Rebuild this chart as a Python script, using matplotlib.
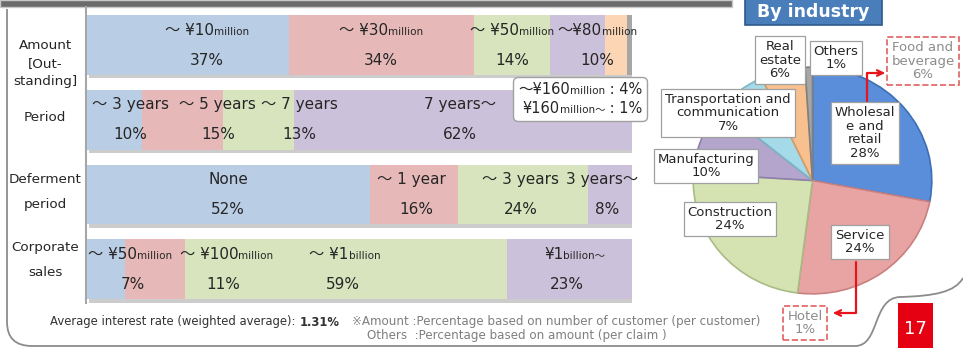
import matplotlib.pyplot as plt
import matplotlib.patheffects as pe
import numpy as np
from matplotlib.offsetbox import AnnotationBbox, HPacker, TextArea, VPacker
from matplotlib.patches import PathPatch, Rectangle
from matplotlib.path import Path

plt.rcParams['font.family'] = ['DejaVu Sans', 'Noto Sans CJK JP']

W, H = 963, 348

# ---- data ----
row_names = ["Amount\n[Out-\nstanding]", "Period", "Deferment\nperiod", "Corporate\nsales"]

amount_pct = [37, 34, 14, 10, 4, 1]
amount_cats = [[("～ ¥10", 0), ("million", 1)],
               [("～ ¥30", 0), ("million", 1)],
               [("～ ¥50", 0), ("million", 1)],
               [("～¥80", 0), ("million", 1)]]
amount_note = [[("～¥160", 0), ("million", 1), (" : 4%", 0)],
               [("¥160", 0), ("million～", 1), (" : 1%", 0)]]

period_pct = [10, 15, 13, 62]
period_cats = ["～ 3 years", "～ 5 years", "～ 7 years", "7 years～"]

deferment_pct = [52, 16, 24, 8]
deferment_cats = ["None", "～ 1 year", "～ 3 years", "3 years～"]

sales_pct = [7, 11, 59, 23]
sales_cats = [[("～ ¥50", 0), ("million", 1)],
              [("～ ¥100", 0), ("million", 1)],
              [("～ ¥1", 0), ("billion", 1)],
              [("¥1", 0), ("billion～", 1)]]

industry = ["Wholesal\ne and\nretail", "Service", "Construction", "Manufacturing",
            "Transportation and\ncommunication", "Real\nestate", "Others"]
industry_pct = [28, 24, 24, 10, 7, 6, 1]
sub_names = ["Food and\nbeverage", "Hotel"]
sub_pct = [6, 1]

# ---- layout / style ----
bar_colors = ['#b9cde5', '#e6b9b8', '#d7e4bd', '#ccc1da', '#fcd5b5', '#a6a6a6']
cat_x = [[22, 54, 78, 93.6], [8, 24, 38.9, 68.4], [25.9, 59.6, 79.6, 94.5], [7.9, 25.6, 47.3, 89.5]]
pct_x = [[22, 54, 78, 93.6], [8, 24, 38.9, 68.4], [25.9, 60.5, 79.6, 95.4], [8.4, 25, 47, 88]]
row_label_dy = [0.25, -0.03, -0.04, -0.12]
row_label_ls = [1.5, 1.0, 2.2, 2.2]
pie_colors = ['#5a8edb', '#e8a3a3', '#d5e3b3', '#b4a5cc', '#a5dbe8', '#f8c08e', '#a6a6a6']
pie_edges = ['#3d6fb5', '#c98080', '#a9bb85', '#8f7fac', '#79b7c6', '#d69b66', '#7f7f7f']
pie_label_xy = [(865, 133), (860, 242), (730, 219), (706, 166), (728, 113), (780, 60), (836, 58)]
sub_label_xy = [(923, 61), (805, 323)]
TXT = '#262626'
RED = '#e8141b'


def mixed(parts, big=11, small=7.5, color=TXT):
    kids = [TextArea(s, textprops=dict(fontsize=small if tiny else big, color=color))
            for s, tiny in parts]
    return HPacker(children=kids, align='baseline', pad=0, sep=0)


fig = plt.figure(figsize=(W / 100, H / 100), dpi=100)

# background / overlay axes in pixel units
bg = fig.add_axes([0, 0, 1, 1], zorder=0)
ov = fig.add_axes([0, 0, 1, 1], zorder=10)
for a in (bg, ov):
    a.set_xlim(0, W)
    a.set_ylim(H, 0)
    a.axis('off')

# title strip, frame, divider
bg.add_patch(Rectangle((0, 0), 732, 7, fc='#6b6b6b', ec='#c8c8c8', lw=1))
frame = Path([(7, 9), (7, 322), (7, 346), (32, 346), (855, 346),
              (880, 346), (872, 298), (900, 297),
              (935, 296), (955, 292), (963, 278)],
             [Path.MOVETO, Path.LINETO, Path.CURVE3, Path.CURVE3, Path.LINETO,
              Path.CURVE4, Path.CURVE4, Path.CURVE4,
              Path.CURVE4, Path.CURVE4, Path.CURVE4])
bg.add_patch(PathPatch(frame, fc='none', ec='#8c8c8c', lw=1.3))
bg.plot([86, 86], [7, 303], color='#a6a6a6', lw=1.5)

# ---- stacked bars ----
ax = fig.add_axes([87 / W, 1 - 306.7 / H, 545 / W, 299 / H], zorder=2)
ax.set_xlim(0, 100)
ax.set_ylim(3.5, -0.5)
ax.axis('off')

shadow = [pe.SimplePatchShadow(offset=(1.5, -2.5), shadow_rgbFace='#9a9a9a', alpha=0.5), pe.Normal()]
all_pct = [amount_pct, period_pct, deferment_pct, sales_pct]
all_cats = [amount_cats,
            [[(s, 0)] for s in period_cats],
            [[(s, 0)] for s in deferment_cats],
            sales_cats]

for r, pcts in enumerate(all_pct):
    left = np.concatenate([[0], np.cumsum(pcts)[:-1]])
    ax.barh(r, pcts, left=left, height=0.8, color=bar_colors[:len(pcts)],
            edgecolor='none', path_effects=shadow)
    for i, cat in enumerate(all_cats[r]):
        ab = AnnotationBbox(mixed(cat), (cat_x[r][i], r - 0.2), frameon=False,
                            box_alignment=(0.5, 0.5), pad=0, zorder=4)
        ax.add_artist(ab)
        ax.text(pct_x[r][i], r + 0.2, f"{pcts[i]}%", ha='center', va='center',
                fontsize=11, color=TXT)
    ax.text(-7.7, r + row_label_dy[r], row_names[r], ha='center', va='center',
            fontsize=9.7, color=TXT, linespacing=row_label_ls[r])

# callout for the two small amount segments
note = VPacker(children=[mixed(p, big=10.5, small=7.5) for p in amount_note],
               align='right', pad=0, sep=3)
tip_x = sum(amount_pct[:4]) + amount_pct[4] / 2
ab = AnnotationBbox(note, (tip_x, 0.42), xybox=(90.5, 0.72), boxcoords='data',
                    box_alignment=(0.5, 0.5), pad=0.3,
                    bboxprops=dict(boxstyle='round,pad=0.35', fc='white', ec='#a0a0a0', lw=1),
                    arrowprops=dict(arrowstyle='wedge,tail_width=0.9', fc='white', ec='#a0a0a0', lw=1),
                    zorder=6)
ax.add_artist(ab)

# ---- pie by industry ----
axp = fig.add_axes([692 / W, 1 - 295 / H, 241 / W, 229 / H], zorder=3)
wedges, _ = axp.pie(industry_pct, colors=pie_colors, startangle=90, counterclock=False,
                    wedgeprops=dict(linewidth=1.2))
for w, ec in zip(wedges, pie_edges):
    w.set_edgecolor(ec)
axp.set_aspect('auto')
axp.set_xlim(-1.01, 1.01)
axp.set_ylim(-1.01, 1.01)

box = dict(boxstyle='square,pad=0.3', fc='white', ec='#a0a0a0', lw=0.9)
dbox = dict(boxstyle='square,pad=0.3', fc='white', ec='#e06060', lw=1.2, ls='--')
for (x, y), name, p in zip(pie_label_xy, industry, industry_pct):
    ov.text(x, y, f"{name}\n{p}%", ha='center', va='center', fontsize=9.5,
            color=TXT, linespacing=1.05, bbox=box)
for (x, y), name, p in zip(sub_label_xy, sub_names, sub_pct):
    ov.text(x, y, f"{name}\n{p}%", ha='center', va='center', fontsize=9.5,
            color='#8c8c8c', linespacing=1.05, bbox=dbox)

ov.annotate('', xy=(885, 73), xytext=(867, 101),
            arrowprops=dict(arrowstyle='->', color=RED, lw=1.6, shrinkA=0, shrinkB=0,
                            connectionstyle='angle,angleA=90,angleB=0,rad=0'))
ov.annotate('', xy=(833, 313), xytext=(856, 262),
            arrowprops=dict(arrowstyle='->', color=RED, lw=1.6, shrinkA=0, shrinkB=0,
                            connectionstyle='angle,angleA=90,angleB=0,rad=0'))

# "By industry" tab and page number
ov.add_patch(Rectangle((745, -4), 137, 29, fc='#4a7ebb', ec='#2f5a8c', lw=1.2))
ov.text(813, 12, "By industry", ha='center', va='center', fontsize=12.5,
        fontweight='bold', color='white')
ov.add_patch(Rectangle((898, 303), 35, 46, fc='#e50012', ec='none'))
ov.text(915.5, 329, "17", ha='center', va='center', fontsize=13, color='white')

# footer notes
avg = HPacker(children=[TextArea("Average interest rate (weighted average): ",
                                 textprops=dict(fontsize=8.4, color='#333333')),
                        TextArea("1.31%", textprops=dict(fontsize=8.4, color='#333333',
                                                         fontweight='bold'))],
              align='baseline', pad=0, sep=0)
ov.add_artist(AnnotationBbox(avg, (50, 322), frameon=False, box_alignment=(0, 0.5), pad=0))
ov.text(352, 322, "※Amount :Percentage based on number of customer (per customer)",
        fontsize=8.6, color='#7f7f7f', va='center')
ov.text(367, 335, "Others  :Percentage based on amount (per claim )",
        fontsize=8.6, color='#7f7f7f', va='center')

fig.savefig('out.png', dpi=100)
